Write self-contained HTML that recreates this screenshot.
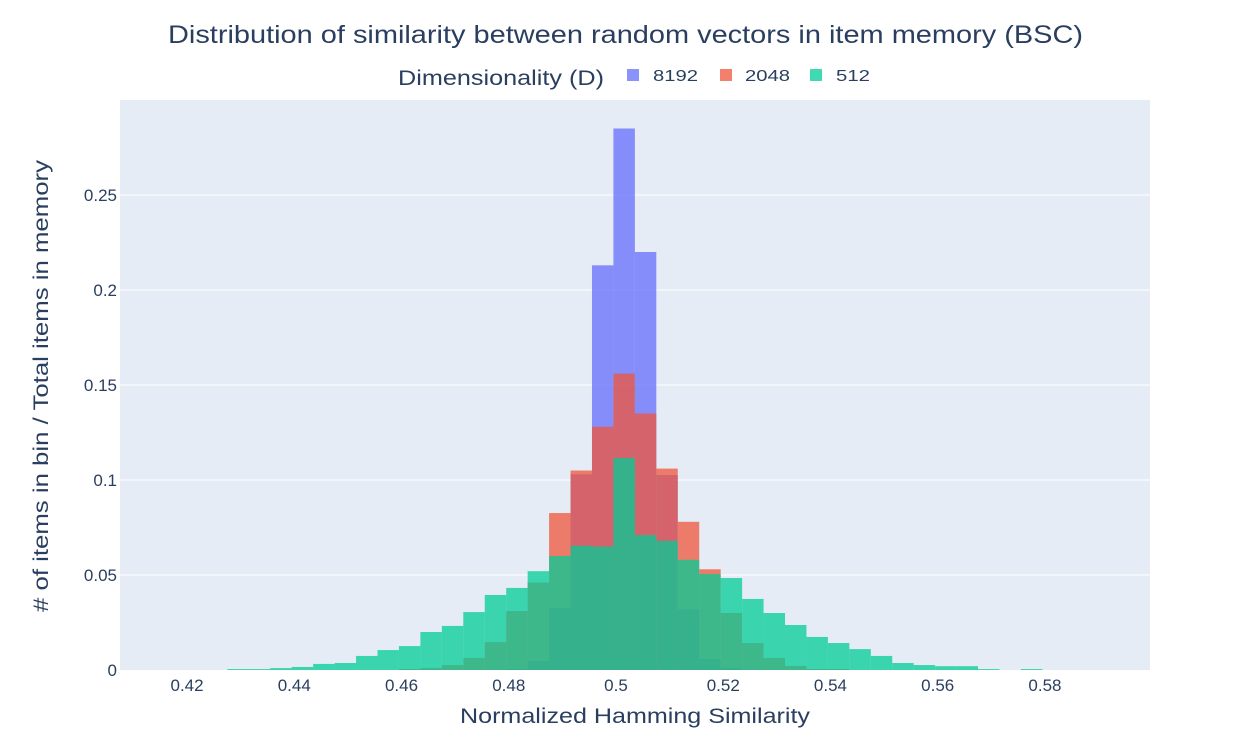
<!DOCTYPE html>
<html><head><meta charset="utf-8"><style>
body{margin:0;background:#fff;font-family:"Liberation Sans",sans-serif}
svg text{font-family:"Liberation Sans",sans-serif;fill:#2a3f5f}
</style></head><body>
<svg id="chart" width="1250" height="750" xmlns="http://www.w3.org/2000/svg">
<rect x="0" y="0" width="1250" height="750" fill="#fff"/>
<rect x="120" y="100" width="1030" height="570" fill="#e5ecf6"/>
<g id="grid"></g>
<g id="bars"></g>
<g id="xt"></g>
<g id="yt"></g>
<text x="168" y="43" font-size="25" textLength="915" lengthAdjust="spacingAndGlyphs">Distribution of similarity between random vectors in item memory (BSC)</text>
<text x="460" y="723" font-size="21" textLength="350" lengthAdjust="spacingAndGlyphs">Normalized Hamming Similarity</text>
<text transform="translate(48,612) rotate(-90)" font-size="21" textLength="452" lengthAdjust="spacingAndGlyphs"># of items in bin / Total items in memory</text>
<g>
<text x="398" y="85" font-size="21" textLength="206" lengthAdjust="spacingAndGlyphs">Dimensionality (D)</text>
<g><rect x="627" y="69" width="12" height="12" fill="#636efa" opacity="0.75"/><text x="653" y="81" font-size="16" textLength="45" lengthAdjust="spacingAndGlyphs">8192</text></g>
<g><rect x="720" y="69" width="12" height="12" fill="#EF553B" opacity="0.75"/><text x="745" y="81" font-size="16" textLength="45" lengthAdjust="spacingAndGlyphs">2048</text></g>
<g><rect x="810" y="69" width="12" height="12" fill="#00cc96" opacity="0.75"/><text x="836" y="81" font-size="16" textLength="34" lengthAdjust="spacingAndGlyphs">512</text></g>
</g>
</svg>
<script>
const binStart = 0.49952 - 18*0.004;
const binWidth = 0.004;
const d8192 = [0,0,0,0,0,0,0,0,0,0,0,0,0,0.0005,0.0047,0.0326,0.103,0.213,0.285,0.22,0.1026,0.032,0.0058,0.001,0,0,0,0,0,0,0,0,0,0,0,0,0,0];
const d2048 = [0,0,0,0,0,0,0,0,0.0005,0.001,0.0026,0.0063,0.0147,0.031,0.046,0.0826,0.105,0.128,0.156,0.135,0.106,0.078,0.053,0.030,0.0142,0.0063,0.0021,0.0005,0.0005,0,0,0,0,0,0,0,0,0];
const d512 = [0.0005,0.0005,0.001,0.0016,0.0032,0.0037,0.0074,0.0105,0.0126,0.020,0.0232,0.0305,0.0395,0.0432,0.052,0.060,0.0654,0.065,0.1116,0.071,0.068,0.058,0.0505,0.0484,0.0374,0.030,0.0237,0.0174,0.0142,0.011,0.0074,0.0037,0.0026,0.002,0.002,0.0005,0,0.0005];
const xTicks = [0.42,0.44,0.46,0.48,0.5,0.52,0.54,0.56,0.58];
const xTickLabels = ["0.42","0.44","0.46","0.48","0.5","0.52","0.54","0.56","0.58"];
const yTicks = [0,0.05,0.1,0.15,0.2,0.25];
const yTickLabels = ["0","0.05","0.1","0.15","0.2","0.25"];
const NS="http://www.w3.org/2000/svg";
const X = v => 616 + (v-0.5)*5362;
const Y = v => 670 - v*1900;
const grid=document.getElementById('grid'), bars=document.getElementById('bars');
const xt=document.getElementById('xt'), yt=document.getElementById('yt');
yTicks.forEach((t,i)=>{
  if(i>0){const l=document.createElementNS(NS,'line');
  
  
  l.setAttribute('x1',120);l.setAttribute('x2',1150);l.setAttribute('y1',Y(t));l.setAttribute('y2',Y(t));
  l.setAttribute('stroke','#fff');l.setAttribute('stroke-width','1');grid.appendChild(l);}
  const tx=document.createElementNS(NS,'text');
  
  
  tx.setAttribute('x',117);tx.setAttribute('y',Y(t)+6);tx.setAttribute('text-anchor','end');tx.setAttribute('font-size','17');
  tx.textContent=yTickLabels[i];yt.appendChild(tx);
});
xTicks.forEach((t,i)=>{
  const tx=document.createElementNS(NS,'text');
  
  
  tx.setAttribute('x',X(t));tx.setAttribute('y',691);tx.setAttribute('text-anchor','middle');tx.setAttribute('font-size','17');
  tx.textContent=xTickLabels[i];xt.appendChild(tx);
});
function drawSeries(arr,color,name){
  arr.forEach((v,i)=>{
    if(v<=0)return;
    const x0=X(binStart+i*binWidth), x1=X(binStart+(i+1)*binWidth);
    const r=document.createElementNS(NS,'rect');
    
    
    r.setAttribute('x',x0);r.setAttribute('width',x1-x0);
    r.setAttribute('y',Y(v));r.setAttribute('height',670-Y(v));
    r.setAttribute('fill',color);r.setAttribute('opacity','0.75');
    bars.appendChild(r);
  });
}
drawSeries(d8192,'#636efa','bar-8192');
drawSeries(d2048,'#EF553B','bar-2048');
drawSeries(d512,'#00cc96','bar-512');
</script>
</body></html>
